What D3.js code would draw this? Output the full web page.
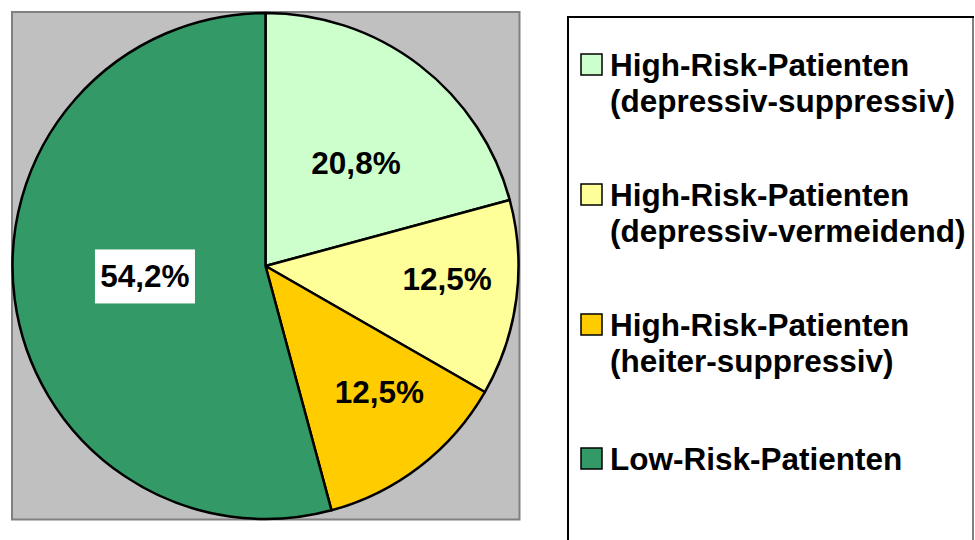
<!DOCTYPE html>
<html>
<head>
<meta charset="utf-8">
<script src="https://cdn.jsdelivr.net/npm/d3@7"></script>
<style>
  html, body { margin: 0; padding: 0; background: #fff; }
  svg { display: block; font-family: "Liberation Sans", Arial, sans-serif; }
</style>
</head>
<body>
<svg id="chart" width="975" height="540"></svg>
<script>
// data
const categories = [
  ['High-Risk-Patienten', '(depressiv-suppressiv)'],
  ['High-Risk-Patienten', '(depressiv-vermeidend)'],
  ['High-Risk-Patienten', '(heiter-suppressiv)'],
  ['Low-Risk-Patienten']
];
const values = [20.8, 12.5, 12.5, 54.2];
const colors = ['#CCFFCC', '#FFFF99', '#FFCC00', '#339966'];

const svg = d3.select('#chart');

// plot area
svg.append('rect')
  .attr('x', 12).attr('y', 12)
  .attr('width', 507.5).attr('height', 507.5)
  .attr('fill', '#C0C0C0')
  .attr('stroke', '#808080')
  .attr('stroke-width', 2);

const cx = 265.5, cy = 266, r = 253;

const pie = d3.pie().sort(null).value(d => d);
const arcs = pie(values);
const arc = d3.arc().innerRadius(0).outerRadius(r);

let g = svg.append('g').attr('transform', `translate(${cx},${cy})`);

g.selectAll('path')
  .data(arcs)
  .enter().append('path')
  .attr('d', arc)
  .attr('fill', (d, i) => colors[i])
  .attr('stroke', '#000')
  .attr('stroke-width', 2.5)
  .attr('stroke-linejoin', 'round');

// label placement (excel "best fit" look): radius and angle nudge per slice
const labelLayout = [
  { rad: 137, nudge: 3.9 },
  { rad: 182, nudge: -3.4 },
  { rad: 170, nudge: -4.4 },
  { rad: 121, nudge: 2.6 }
];
const fmt = v => d3.format('.1f')(v).replace('.', ',') + '%';

arcs.forEach((d, i) => {
  let a = (d.startAngle + d.endAngle) / 2 + labelLayout[i].nudge * Math.PI / 180;
  let x = Math.sin(a) * labelLayout[i].rad;
  let y = -Math.cos(a) * labelLayout[i].rad;
  let lg = g.append('g').attr('transform', `translate(${x},${y})`);
  if (i === 3) {
    lg.append('rect')
      .attr('x', -50).attr('y', -27)
      .attr('width', 100).attr('height', 54)
      .attr('fill', '#fff');
  }
  lg.append('text')
    .attr('text-anchor', 'middle')
    .attr('y', 11)
    .attr('font-size', 31.5)
    .attr('font-weight', 'bold')
    .attr('fill', '#000')
    .text(fmt(values[i]));
});

// legend
let legend = svg.append('g');
legend.append('rect')
  .attr('x', 568).attr('y', 17)
  .attr('width', 405).attr('height', 600)
  .attr('fill', '#fff')
  .attr('stroke', '#000')
  .attr('stroke-width', 2);
legend.append('line')
  .attr('x1', 973).attr('x2', 973)
  .attr('y1', 18).attr('y2', 540)
  .attr('stroke', '#808080')
  .attr('stroke-width', 2);

const baselines = [76, 206, 336, 470];

categories.forEach((lines, i) => {
  let b = baselines[i];
  legend.append('rect')
    .attr('x', 581).attr('y', b - 22)
    .attr('width', 21).attr('height', 21)
    .attr('fill', colors[i])
    .attr('stroke', '#000')
    .attr('stroke-width', 1.5);
  let t = legend.append('text')
    .attr('x', 610).attr('y', b)
    .attr('font-size', 31.5)
    .attr('font-weight', 'bold')
    .attr('fill', '#000');
  lines.forEach((l, j) => {
    t.append('tspan')
      .attr('x', 610)
      .attr('dy', j === 0 ? 0 : 36)
      .text(l);
  });
});
</script>
</body>
</html>
